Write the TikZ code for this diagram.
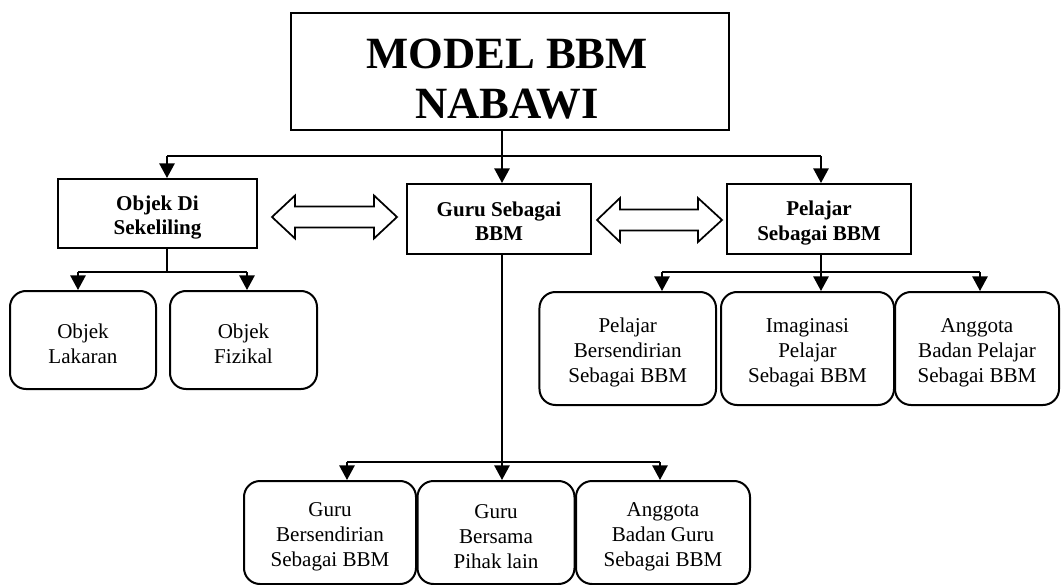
\documentclass[tikz,border=0pt]{standalone}
\usepackage{fontspec}
\setmainfont{Liberation Serif}
\usetikzlibrary{arrows.meta}
\newcommand{\lowr}{\rule{0pt}{17pt}}
\begin{document}
\begin{tikzpicture}[x=0.75pt,y=-0.75pt,
  lvl/.style={draw, line width=1.5pt, font=\fontsize{15.8}{18.4}\selectfont\bfseries, align=center, inner sep=0pt},
  leaf/.style={draw, line width=1.5pt, rounded corners=12pt, font=\fontsize{15.8}{18.6}\selectfont, align=center, inner sep=0pt},
  conn/.style={line width=1.4pt},
  arr/.style={conn, -{Triangle[length=11pt,width=11.5pt]}},
  dblarrow/.style={draw, line width=1.3pt, line join=miter}]
\useasboundingbox (0,0) rectangle (1061,585);

% title
\node[draw, line width=1.4pt, minimum width=328.5pt, minimum height=87.75pt, inner sep=0pt] (title) at (510,71.5) {};
\node[font=\fontsize{33.5}{37.5}\selectfont\bfseries, align=center, inner sep=0pt] (titletext) at (507,79.5) {MODEL BBM\\NABAWI};

% level 1
\node[lvl, minimum width=149.25pt, minimum height=51.75pt] (objek) at (157.5,213.5) {\lowr Objek Di\\Sekeliling};
\node[lvl, minimum width=138pt, minimum height=52.5pt] (guru) at (499,219) {\rule{0pt}{14pt}Guru Sebagai\\BBM};
\node[lvl, minimum width=138pt, minimum height=52.5pt] (pelajar) at (819,219) {\lowr Pelajar\\Sebagai BBM};

% leaves under objek
\node[leaf, minimum width=109.5pt, minimum height=73.5pt] (lakaran) at (83,340) {\lowr Objek\\Lakaran};
\node[leaf, minimum width=110.25pt, minimum height=73.5pt] (fizikal) at (243.5,340) {\lowr Objek\\Fizikal};

% leaves under pelajar
\node[leaf, minimum width=132.4pt, minimum height=84.75pt] (p1) at (627.75,348.5) {\lowr Pelajar\\Bersendirian\\Sebagai BBM};
\node[leaf, minimum width=129.75pt, minimum height=84.75pt] (p2) at (807.5,348.5) {\lowr Imaginasi\\Pelajar\\Sebagai BBM};
\node[leaf, minimum width=123pt, minimum height=84.75pt] (p3) at (977,348.5) {\lowr Anggota\\Badan Pelajar\\Sebagai BBM};

% leaves under guru
\node[leaf, minimum width=129pt, minimum height=77.25pt] (g1) at (330,532.5) {\lowr Guru\\Bersendirian\\Sebagai BBM};
\node[leaf, minimum width=117.75pt, minimum height=77.25pt] (g2) at (496,532.5) {\lowr Guru\\Bersama\\Pihak lain};
\node[leaf, minimum width=130.5pt, minimum height=77.25pt] (g3) at (663,532.5) {\lowr Anggota\\Badan Guru\\Sebagai BBM};

% top connectors
\coordinate (tj) at (502,156);
\coordinate (tl) at (167,156);
\coordinate (tr) at (821,156);
\draw[conn] (title.south -| tj) -- (tj);
\draw[conn] (tl) -- (tr);
\draw[arr] (tl) -- (tl |- objek.north);
\draw[arr] (tj) -- (tj |- guru.north);
\draw[arr] (tr) -- (tr |- pelajar.north);

% objek children
\coordinate (oj) at (167,272);
\coordinate (ol) at (78,272);
\coordinate (orr) at (247,272);
\draw[conn] (oj |- objek.south) -- (oj);
\draw[conn] (ol) -- (orr);
\draw[arr] (ol) -- (ol |- lakaran.north);
\draw[arr] (orr) -- (orr |- fizikal.north);

% pelajar children
\coordinate (pj) at (821,272);
\coordinate (pl) at (662,272);
\coordinate (pr) at (980,272);
\draw[conn] (pj |- pelajar.south) -- (pj);
\draw[conn] (pl) -- (pr);
\draw[arr] (pl) -- (pl |- p1.north);
\draw[arr] (pj) -- (pj |- p2.north);
\draw[arr] (pr) -- (pr |- p3.north);

% guru children
\coordinate (gj) at (502,462);
\coordinate (gl) at (347,462);
\coordinate (gr) at (660,462);
\draw[conn] (gj |- guru.south) -- (gj);
\draw[conn] (gl) -- (gr);
\draw[arr] (gl) -- (gl |- g1.north);
\draw[arr] (gj) -- (gj |- g2.north);
\draw[arr] (gr) -- (gr |- g3.north);

% double arrows
\draw[dblarrow] (272,217) -- (295,195.5) -- (295,206.5) -- (374,206.5) -- (374,195.5) -- (397,217)
  -- (374,238.5) -- (374,227.5) -- (295,227.5) -- (295,238.5) -- cycle;
\draw[dblarrow] (597,220) -- (620,198) -- (620,209.5) -- (698,209.5) -- (698,198) -- (722,220)
  -- (698,242) -- (698,230.5) -- (620,230.5) -- (620,242) -- cycle;
\end{tikzpicture}
\end{document}
